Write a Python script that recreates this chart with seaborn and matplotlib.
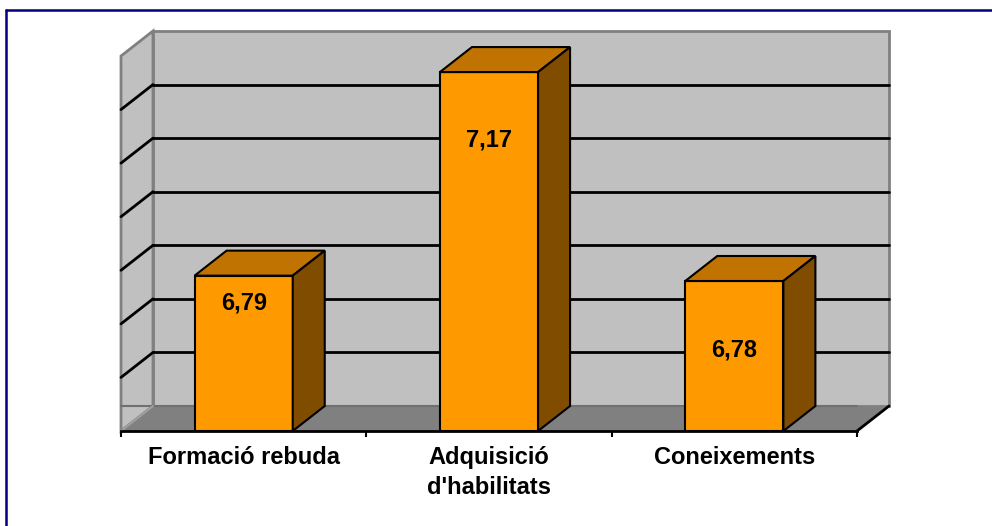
import numpy as np
import pandas as pd
import matplotlib
matplotlib.use("Agg")
import matplotlib.pyplot as plt
from matplotlib.patches import Polygon, Rectangle
from matplotlib.lines import Line2D
from matplotlib.transforms import ScaledTranslation
import seaborn as sns

categories = ["Formació rebuda", "Adquisició\nd'habilitats", "Coneixements"]
values = [6.79, 7.17, 6.78]
value_labels = ["6,79", "7,17", "6,78"]

# layout / style
y_min, y_max, y_step = 6.5, 7.2, 0.1
depth_px = (32, 25)              # 3d depth offset in pixels
label_drop_px = [27, 68, 69]     # value label position below bar top
front = "#FF9900"
top_col = "#C07300"
side_col = "#7F4C00"
wall = "#C0C0C0"
floor_col = "#808080"
edge_gray = "#808080"

sns.set_style("white", {"text.color": "black", "xtick.color": "black"})
plt.rcParams["font.family"] = ["Liberation Sans", "DejaVu Sans"]

W, H = 992, 526
fig = plt.figure(figsize=(W / 100, H / 100), dpi=100)
ax = fig.add_axes([121 / W, (H - 431) / H, 736 / W, 375 / H])
ax.patch.set_alpha(0)

df = pd.DataFrame({"cat": categories, "val": values})
sns.barplot(data=df, x="cat", y="val", color=front, width=0.4,
            edgecolor="black", linewidth=1.5, saturation=1, ax=ax)

ax.set_xlim(-0.5, len(categories) - 0.5)
ax.set_ylim(y_min, y_max)
ax.set_xlabel("")
ax.set_ylabel("")
ax.set_yticks([])

# depth offset in data units
inv = ax.transData.inverted()
p0 = ax.transData.transform((0, y_min))
p1 = inv.transform(p0 + np.array(depth_px))
dx, dy = p1[0], p1[1] - y_min
xl, xr = ax.get_xlim()

back = ax.transData + ScaledTranslation(depth_px[0] / 100, depth_px[1] / 100,
                                        fig.dpi_scale_trans)

# back wall
ax.add_patch(Rectangle((xl, y_min), xr - xl, y_max - y_min, transform=back,
                       facecolor=wall, edgecolor=edge_gray, lw=2,
                       clip_on=False, zorder=0))
# left wall
ax.add_patch(Polygon([(xl, y_min), (xl, y_max), (xl + dx, y_max + dy), (xl + dx, y_min + dy)],
                     facecolor=wall, edgecolor=edge_gray, lw=2, clip_on=False, zorder=0))
# floor
ax.add_patch(Polygon([(xl, y_min), (xr, y_min), (xr + dx, y_min + dy), (xl + dx, y_min + dy)],
                     facecolor=floor_col, edgecolor="none", clip_on=False, zorder=0.5))
ax.plot([xl, xr], [y_min + dy, y_min + dy], color="#707070", lw=1.5, clip_on=False, zorder=0.6)
ax.plot([xr, xr + dx], [y_min, y_min + dy], color="black", lw=2, clip_on=False, zorder=0.6)
ax.plot([xl, xl + dx], [y_min, y_min + dy], color="#A0A0A0", lw=1.5, clip_on=False, zorder=0.6)

# gridlines on back and left walls
for g in np.arange(y_min + y_step, y_max - y_step / 2, y_step):
    ax.plot([xl, xr], [g, g], color="black", lw=2, transform=back, clip_on=False, zorder=0.4)
    ax.plot([xl, xl + dx], [g, g + dy], color="black", lw=2, clip_on=False, zorder=0.4)

# 3d faces of the bars
for bar, lab, drop in zip(ax.patches, value_labels, label_drop_px):
    if not isinstance(bar, Rectangle) or bar.get_height() == 0:
        continue
    bar.set_zorder(3)
    bar.set_clip_on(False)
    x0 = bar.get_x()
    x1 = x0 + bar.get_width()
    t = bar.get_height()
    ax.add_patch(Polygon([(x0, t), (x1, t), (x1 + dx, t + dy), (x0 + dx, t + dy)],
                         facecolor=top_col, edgecolor="black", lw=1.5,
                         clip_on=False, zorder=3, joinstyle="miter"))
    ax.add_patch(Polygon([(x1, y_min), (x1 + dx, y_min + dy), (x1 + dx, t + dy), (x1, t)],
                         facecolor=side_col, edgecolor="black", lw=1.5,
                         clip_on=False, zorder=3, joinstyle="miter"))
    ax.annotate(lab, xy=(x0 + bar.get_width() / 2, t), xytext=(0, -drop),
                textcoords="offset pixels", ha="center", va="center", color="black",
                fontsize=17, fontweight="bold", zorder=4)

# clip bars at the floor line
for bar in ax.patches:
    if isinstance(bar, Rectangle) and bar.get_zorder() == 3:
        bar.set_y(y_min)
        bar.set_height(bar.get_height() - y_min)

for s in ["top", "right", "left"]:
    ax.spines[s].set_visible(False)
ax.spines["bottom"].set_color("black")
ax.spines["bottom"].set_linewidth(2)
ax.spines["bottom"].set_zorder(5)

ax.set_xticks(range(len(categories)))
ax.set_xticklabels(categories, fontsize=17, fontweight="bold", linespacing=1.4, color="black")
ax.set_xticks(np.arange(xl, xr + 0.01, 1), minor=True)
ax.tick_params(axis="x", which="major", length=0, pad=11)
ax.tick_params(axis="x", which="minor", length=4.5, width=1.5, color="black",
               direction="out", bottom=True)

# figure border (navy, top and left)
fig.add_artist(Line2D([6 / W, 6 / W], [0, (H - 9.5) / H], color="#000080",
                      lw=1.8, transform=fig.transFigure))
fig.add_artist(Line2D([6 / W, 1], [(H - 9.5) / H, (H - 9.5) / H], color="#000080",
                      lw=1.8, transform=fig.transFigure))

fig.savefig("out.png", dpi=100)
